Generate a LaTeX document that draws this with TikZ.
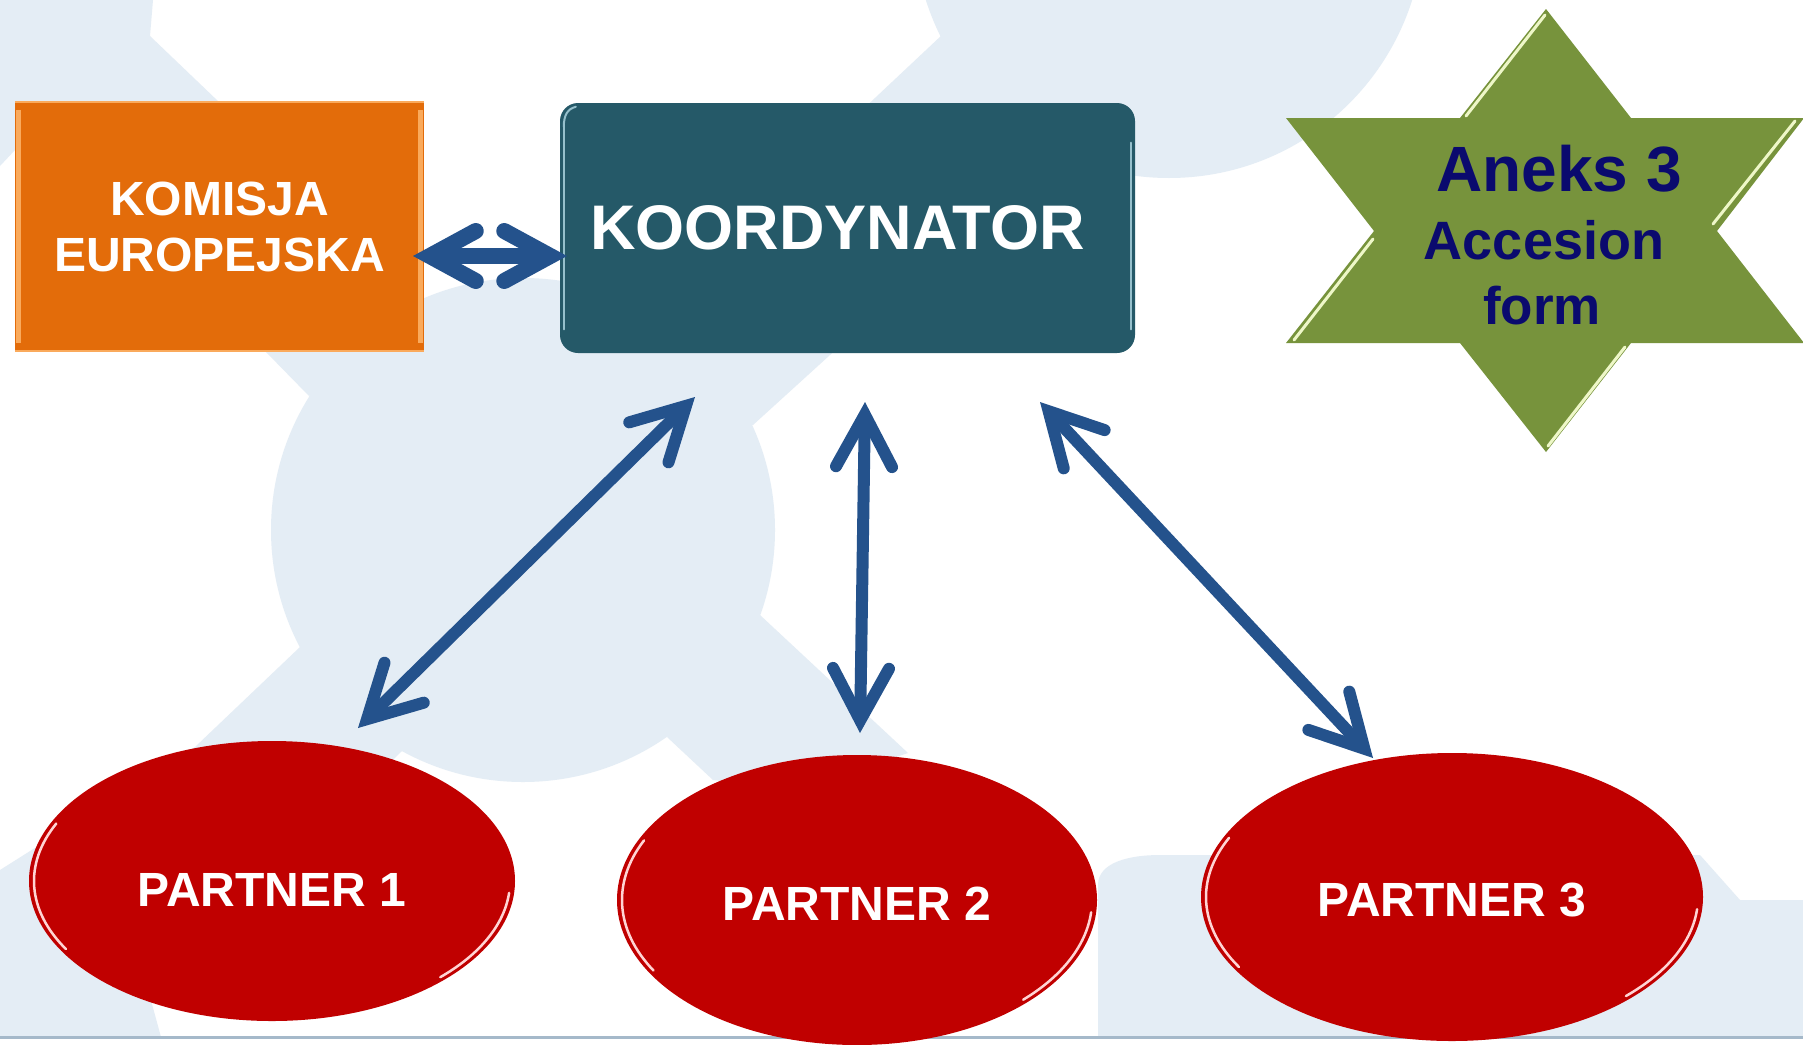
\documentclass[tikz,border=0pt]{standalone}
\usepackage{fontspec}
\setmainfont{Liberation Sans}
\usetikzlibrary{arrows.meta,shapes.geometric,calc}
\definecolor{pale}{RGB}{228,237,245}
\definecolor{orangebox}{RGB}{227,108,10}
\definecolor{orangelight}{RGB}{250,170,92}
\definecolor{koordc}{RGB}{37,89,104}
\definecolor{koordlight}{RGB}{150,192,204}
\definecolor{stargreen}{RGB}{119,147,60}
\definecolor{starlight}{RGB}{238,247,200}
\definecolor{navytext}{RGB}{10,10,110}
\definecolor{partnerred}{RGB}{192,0,0}
\definecolor{rimlight}{RGB}{255,212,212}
\definecolor{arrowblue}{RGB}{36,82,140}
\definecolor{slideline}{RGB}{165,185,202}
\begin{document}
\begin{tikzpicture}[x=1pt,y=-1pt,
  partner/.style={ellipse, fill=partnerred, inner sep=0pt, text=white,
    font=\fontsize{48}{56}\selectfont\bfseries},
  startext/.style={anchor=base, text=navytext, inner sep=0pt},
  rim/.style={draw=rimlight, line width=2.5pt, line cap=round},
  bevel/.style={line cap=round},
  dblarrow/.style={draw=arrowblue, line width=12pt,
    {Straight Barb[length=52pt,width=56pt,line cap=round,line join=miter]}-{Straight Barb[length=52pt,width=56pt,line cap=round,line join=miter]}},
  widearrow/.style={draw=arrowblue, line width=16pt,
    {Straight Barb[length=46pt,width=50pt,line cap=round,line join=miter]}-{Straight Barb[length=46pt,width=50pt,line cap=round,line join=miter]}},
]
\useasboundingbox (0,0) rectangle (1803,1044);
\fill[white] (0,0) rectangle (1803,1044);

% background pattern
\begin{scope}
\clip (0,0) rectangle (1803,1044);
\fill[pale] (0,0) -- (153,0) -- (150,36) -- (220,103) -- (15,150) -- (0,166) -- cycle;
\fill[pale] (1169,-77) circle[radius=255];
\fill[pale] (931,0) -- (942,35) -- (1182,35) -- (1182,0) -- cycle;
\fill[pale] (942,35) -- (1182,35) -- (753,425) -- (527,425) -- cycle;
\fill[pale] (523,530) circle[radius=252];
\fill[pale] (266,352) -- (309,396) -- (380,352) -- cycle;
\fill[pale] (667,737) -- (713,780) -- (800,790) -- (908,753) -- (760,615) -- cycle;
\fill[pale] (300,647) -- (195,747) -- (0,870) -- (0,1037) -- (161,1037) -- (149,993) -- (300,850) -- (402,751) -- cycle;
\fill[pale] (1098,1037) -- (1098,885) .. controls (1098,862) and (1130,855) .. (1160,855) -- (1700,855) -- (1740,900) -- (1803,900) -- (1803,1037) -- cycle;
\end{scope}
\draw[slideline, line width=3pt] (0,1037.5) -- (1803,1037.5);

% Komisja Europejska
\node[fill=orangebox, minimum width=409pt, minimum height=251pt, inner sep=0pt,
  align=center, text=white, font=\fontsize{48}{56}\selectfont\bfseries]
  (kom) at (219.5,226.5) {KOMISJA\\EUROPEJSKA};
\draw[orangelight, line width=5pt] ($(kom.north west)+(3.5,9)$) -- ($(kom.south west)+(3.5,-9)$);
\draw[orangelight, line width=5pt] ($(kom.north east)+(-3.5,9)$) -- ($(kom.south east)+(-3.5,-9)$);
\draw[orangelight, line width=2pt] ($(kom.north west)+(0,1)$) -- ($(kom.north east)+(0,1)$);
\draw[orangelight, line width=2pt] ($(kom.south west)+(0,-1)$) -- ($(kom.south east)+(0,-1)$);

% Koordynator
\node[fill=koordc, rounded corners=18pt, minimum width=575pt, minimum height=250pt,
  inner sep=0pt, text=white, font=\fontsize{63}{70}\selectfont\bfseries]
  (koord) at (847.5,228) {KOORDYNATOR\hspace*{20pt}};
\draw[koordlight, line width=2.5pt, bevel] ($(koord.north west)+(4,24)$) -- ($(koord.south west)+(4,-24)$);
\draw[koordlight, line width=2.5pt, bevel] ($(koord.north east)+(-4,40)$) -- ($(koord.south east)+(-4,-24)$);
\draw[koordlight, line width=2pt, bevel] ($(koord.north west)+(4,24)$) .. controls ($(koord.north west)+(4,12)$) and ($(koord.north west)+(8,6)$) .. ($(koord.north west)+(16,4)$);

% Star
\fill[stargreen] (1546,9) -- (1631,118) -- (1804,118) -- (1717,231) -- (1804,343)
  -- (1631,343) -- (1546,452) -- (1460,343) -- (1286,343) -- (1374,231)
  -- (1286,118) -- (1460,118) -- cycle;
\draw[starlight, line width=3pt, bevel] (1466,116) -- (1545,15);
\draw[starlight, line width=3pt, bevel] (1373,239) -- (1294,340);
\draw[starlight, line width=3pt, bevel] (1713,224) -- (1795,121);
\draw[starlight, line width=3pt, bevel] (1625,347) -- (1548,446);
\node[startext, font=\fontsize{64}{68}\selectfont\bfseries] (aneks) at (1559,191) {Aneks 3};
\node[startext, font=\fontsize{54}{60}\selectfont\bfseries] (accesion) at (1544,259) {Accesion};
\node[startext, font=\fontsize{53}{60}\selectfont\bfseries] (form) at (1542,324) {form};

% Partners
\node[partner, minimum width=486pt, minimum height=280pt, text height=50pt] (p1) at (272,881) {PARTNER 1};
\node[partner, minimum width=480pt, minimum height=290pt, text height=40pt] (p2) at (857,900) {PARTNER 2};
\node[partner, minimum width=502pt, minimum height=288pt, text height=40pt] (p3) at (1452,897) {PARTNER 3};
\draw[rim] ($(p1.center)+(-155:238 and 136)$) arc[start angle=-155, end angle=-210, x radius=238, y radius=136];
\draw[rim] ($(p1.center)+(5:238 and 136)$) arc[start angle=5, end angle=45, x radius=238, y radius=136];
\draw[rim] ($(p2.center)+(-155:235 and 141)$) arc[start angle=-155, end angle=-210, x radius=235, y radius=141];
\draw[rim] ($(p2.center)+(5:235 and 141)$) arc[start angle=5, end angle=45, x radius=235, y radius=141];
\draw[rim] ($(p3.center)+(-155:246 and 140)$) arc[start angle=-155, end angle=-210, x radius=246, y radius=140];
\draw[rim] ($(p3.center)+(5:246 and 140)$) arc[start angle=5, end angle=45, x radius=246, y radius=140];

% Connectors
\coordinate (hk) at (413,256);
\coordinate (hc) at (567,256);
\coordinate (a1p) at (358,728);
\coordinate (a1k) at (695,397);
\coordinate (a2p) at (860,733);
\coordinate (a2k) at (865,402);
\coordinate (a3p) at (1373,758);
\coordinate (a3k) at (1040,402);
\draw[widearrow] (hk) -- (hc);
\draw[dblarrow] (a1p) -- (a1k);
\draw[dblarrow] (a2p) -- (a2k);
\draw[dblarrow] (a3p) -- (a3k);
\end{tikzpicture}
\end{document}
